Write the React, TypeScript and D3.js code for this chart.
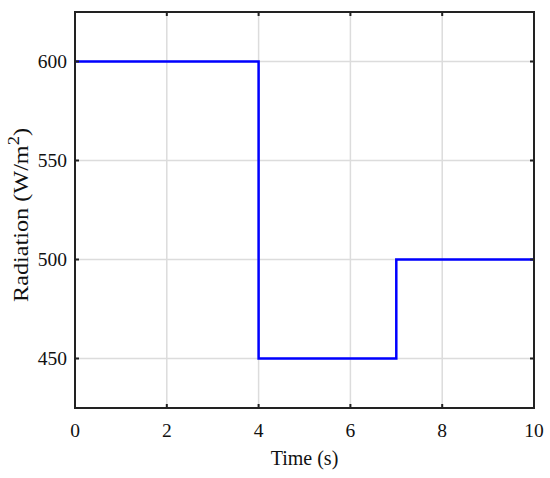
import React from "react";
import * as d3 from "d3";

const timeValues = [0, 4, 4, 7, 7, 10];
const radiationValues = [600, 600, 450, 450, 500, 500];
const xTicks = [0, 2, 4, 6, 8, 10];
const yTicks = [450, 500, 550, 600];

export default function App() {
  const W = 550, H = 478;
  const L = 75, R = 534, T = 12, B = 408;
  const x = d3.scaleLinear().domain([0, 10]).range([L, R]);
  const y = d3.scaleLinear().domain([425, 625]).range([B, T]);
  const pts = timeValues.map((t, i) => [t, radiationValues[i]] as [number, number]);
  const line = d3.line<[number, number]>().x(d => x(d[0])).y(d => y(d[1]));
  const font = "'Liberation Serif', 'Times New Roman', serif";
  return (
    <svg width={W} height={H} style={{ position: "absolute", left: 0, top: 0 }}>
      <rect x={0} y={0} width={W} height={H} fill="#fff" />
      {xTicks.map(t => (
        <line key={"gx" + t} x1={x(t)} x2={x(t)} y1={T} y2={B} stroke="#dcdcdc" strokeWidth={1.5} />
      ))}
      {yTicks.map(t => (
        <line key={"gy" + t} x1={L} x2={R} y1={y(t)} y2={y(t)} stroke="#dcdcdc" strokeWidth={1.5} />
      ))}
      <path d={line(pts) || ""} fill="none" stroke="#0000ff" strokeWidth={2.5} />
      {xTicks.map(t => (
        <g key={"tx" + t}>
          <line x1={x(t)} x2={x(t)} y1={B} y2={B - 4} stroke="#222" strokeWidth={2} />
          <line x1={x(t)} x2={x(t)} y1={T} y2={T + 4} stroke="#222" strokeWidth={2} />
          <text x={x(t)} y={437} textAnchor="middle" fontFamily={font} fontSize={19.5} fill="#111">{t}</text>
        </g>
      ))}
      {yTicks.map(t => (
        <g key={"ty" + t}>
          <line x1={L} x2={L + 4} y1={y(t)} y2={y(t)} stroke="#222" strokeWidth={2} />
          <line x1={R} x2={R - 4} y1={y(t)} y2={y(t)} stroke="#222" strokeWidth={2} />
          <text x={67} y={y(t)} dy="0.35em" textAnchor="end" fontFamily={font} fontSize={19.5} fill="#111">{t}</text>
        </g>
      ))}
      <rect x={L} y={T} width={R - L} height={B - T} fill="none" stroke="#222" strokeWidth={2} />
      <text x={(L + R) / 2} y={465} textAnchor="middle" fontFamily={font} fontSize={20} fill="#111">Time (s)</text>
      <text transform={`translate(28, 215) rotate(-90)`} textAnchor="middle" fontFamily={font} fontSize={21}
        textLength={174} lengthAdjust="spacingAndGlyphs" fill="#111">
        Radiation (W/m<tspan dy="-9" fontSize={16}>2</tspan><tspan dy="9">)</tspan>
      </text>
    </svg>
  );
}
